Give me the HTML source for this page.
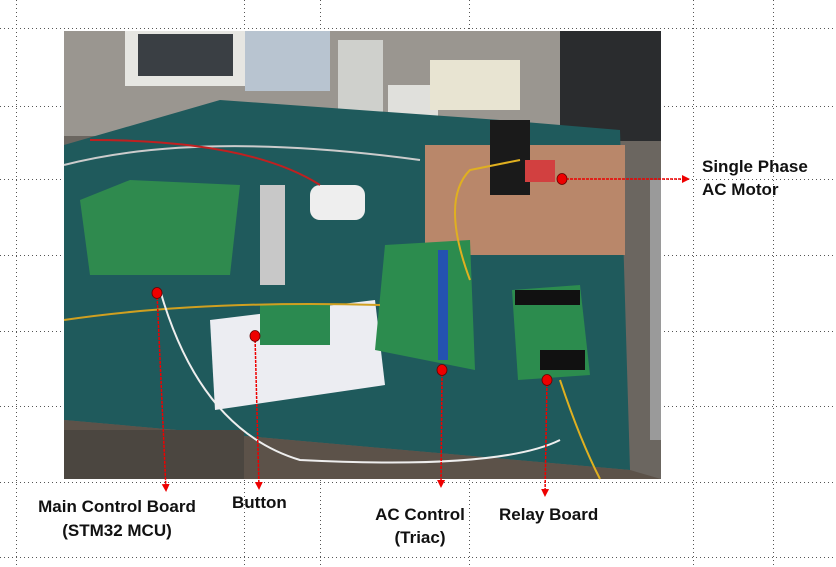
<!DOCTYPE html>
<html><head><style>
html,body{margin:0;padding:0;background:#fff;width:836px;height:567px;overflow:hidden}
svg{display:block}
text{font-family:"Liberation Sans",sans-serif;font-weight:bold;font-size:17px;fill:#111}
</style></head><body>
<svg width="836" height="567" viewBox="0 0 836 567">
<defs>
<marker id="ar" markerWidth="8" markerHeight="8" refX="6" refY="4" orient="auto" markerUnits="userSpaceOnUse"><path d="M0,0 L8,4 L0,8z" fill="#e00"/></marker>
</defs>
<!-- dotted grid -->
<g stroke="#555" stroke-width="1" stroke-dasharray="1,3">
<line x1="0" y1="28.5" x2="836" y2="28.5"/><line x1="0" y1="106.5" x2="836" y2="106.5"/>
<line x1="0" y1="179.5" x2="836" y2="179.5"/><line x1="0" y1="255.5" x2="836" y2="255.5"/>
<line x1="0" y1="331.5" x2="836" y2="331.5"/><line x1="0" y1="406.5" x2="836" y2="406.5"/>
<line x1="0" y1="482.5" x2="836" y2="482.5"/><line x1="0" y1="557.5" x2="836" y2="557.5"/>
<line x1="16.5" y1="0" x2="16.5" y2="567"/><line x1="244.5" y1="0" x2="244.5" y2="567"/>
<line x1="320.5" y1="0" x2="320.5" y2="567"/><line x1="469.5" y1="0" x2="469.5" y2="567"/>
<line x1="693.5" y1="0" x2="693.5" y2="567"/><line x1="773.5" y1="0" x2="773.5" y2="567"/>
</g>
<!-- photo approximation -->
<g>
<rect x="64" y="31" width="597" height="448" fill="#6b6660"/>
<rect x="64" y="31" width="597" height="105" fill="#9a9690"/>
<rect x="125" y="31" width="120" height="55" fill="#e6e6e2"/>
<rect x="138" y="34" width="95" height="42" fill="#3a3f44"/>
<rect x="245" y="31" width="85" height="60" fill="#b8c4d0"/>
<rect x="338" y="40" width="45" height="110" fill="#cfd0cc"/>
<rect x="388" y="85" width="50" height="55" fill="#e0e0dc"/>
<rect x="430" y="60" width="90" height="50" fill="#e8e4d2"/>
<rect x="560" y="31" width="101" height="110" fill="#2a2c2e"/>
<polygon points="64,145 220,100 500,120 620,130 630,470 64,420" fill="#1f5a5c"/>
<polygon points="64,420 630,470 661,479 64,479" fill="#5c5249"/>
<rect x="64" y="430" width="180" height="49" fill="#4b4640"/>
<rect x="425" y="145" width="200" height="110" fill="#b9876a"/>
<rect x="490" y="120" width="40" height="75" fill="#1a1a1a"/>
<rect x="525" y="160" width="30" height="22" fill="#d24040"/>
<polygon points="80,200 130,180 240,185 230,275 90,275" fill="#2f8a4e"/>
<rect x="310" y="185" width="55" height="35" fill="#eeeeee" rx="10"/>
<rect x="260" y="185" width="25" height="100" fill="#c8c8c8"/>
<polygon points="210,320 375,300 385,385 215,410" fill="#ecedf2"/>
<rect x="260" y="305" width="70" height="40" fill="#2b8a50"/>
<polygon points="385,245 470,240 475,370 375,350" fill="#2c8c4e"/>
<rect x="438" y="250" width="10" height="110" fill="#2452b0"/>
<polygon points="512,290 580,285 590,375 518,380" fill="#2c8c4e"/>
<rect x="515" y="290" width="65" height="15" fill="#111"/>
<rect x="540" y="350" width="45" height="20" fill="#111"/>
<rect x="650" y="180" width="11" height="260" fill="#9a9a9a"/>
<g fill="none" stroke-width="2">
<path d="M64,165 Q200,130 420,160" stroke="#ccc"/>
<path d="M90,140 Q250,140 320,185" stroke="#c02020"/>
<path d="M64,320 Q200,300 380,305" stroke="#d0a020"/>
<path d="M160,290 Q200,430 300,460 Q500,470 560,440" stroke="#eee"/>
<path d="M470,280 Q440,200 470,170 L520,160" stroke="#e0b020"/>
<path d="M560,380 Q580,440 600,479" stroke="#e0b020"/>
</g>
</g>
<!-- markers -->
<g stroke="#e00" stroke-width="1.5" stroke-dasharray="3,1" fill="none">
<line x1="157" y1="293" x2="166" y2="490" marker-end="url(#ar)"/>
<line x1="255" y1="336" x2="259" y2="488" marker-end="url(#ar)"/>
<line x1="442" y1="370" x2="441" y2="486" marker-end="url(#ar)"/>
<line x1="547" y1="380" x2="545" y2="495" marker-end="url(#ar)"/>
<line x1="562" y1="179" x2="688" y2="179" marker-end="url(#ar)"/>
</g>
<g fill="#e00" stroke="#600" stroke-width="0.8">
<ellipse cx="157" cy="293" rx="5" ry="5.5"/><ellipse cx="255" cy="336" rx="5" ry="5.5"/>
<ellipse cx="442" cy="370" rx="5" ry="5.5"/><ellipse cx="547" cy="380" rx="5" ry="5.5"/>
<ellipse cx="562" cy="179" rx="5" ry="5.5"/>
</g>
<!-- labels -->
<text x="702" y="172">Single Phase</text>
<text x="702" y="195">AC Motor</text>
<text x="117" y="512" text-anchor="middle">Main Control Board</text>
<text x="117" y="536" text-anchor="middle">(STM32 MCU)</text>
<text x="232" y="508">Button</text>
<text x="420" y="520" text-anchor="middle">AC Control</text>
<text x="420" y="543" text-anchor="middle">(Triac)</text>
<text x="499" y="520">Relay Board</text>
</svg>
</body></html>
